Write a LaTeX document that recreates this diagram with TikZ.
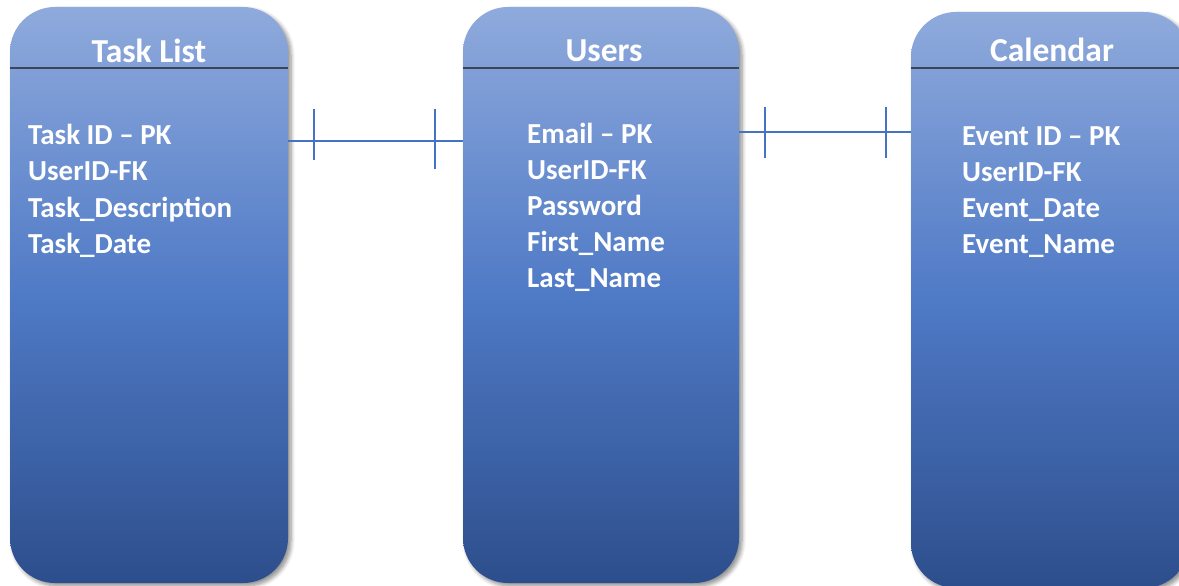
\documentclass[tikz,border=0pt]{standalone}
\usepackage{fontspec}
\setmainfont{Carlito}
\usetikzlibrary{shadows.blur}
\definecolor{boxtop}{HTML}{8FAADC}
\definecolor{boxmid}{HTML}{4F7AC6}
\definecolor{boxbot}{HTML}{2D4E8C}
\definecolor{linkblue}{HTML}{4472C4}
\definecolor{rulegrey}{HTML}{3A4558}
\begin{document}
\begin{tikzpicture}[x=1pt,y=-1pt,
  entity/.style={rectangle, rounded corners=45pt, inner sep=0pt,
    minimum width=#1, minimum height=576pt,
    top color=boxtop, bottom color=boxbot, middle color=boxmid,
    blur shadow={shadow xshift=3pt, shadow yshift=-3pt,
      shadow blur radius=4pt, shadow blur steps=6, shadow opacity=45}},
  entitytitle/.style={text=white, inner sep=0pt, anchor=base,
    font=\fontsize{33.5}{40}\selectfont\bfseries},
  field/.style={text=white, inner sep=0pt, anchor=base west,
    font=\fontsize{29}{35}\selectfont\bfseries},
  titlerule/.style={draw=rulegrey, line width=1.4pt},
  link/.style={draw=linkblue, line width=1.5pt}]
\useasboundingbox (0,0) rectangle (1179,586);

% entity boxes
\node[entity=278pt] (tasks) at (149,295) {};
\node[entity=276pt] (users) at (601,295) {};
\node[entity=278pt] (cal) at (1050,300) {};

% title rules
\coordinate (ruley) at (0,68);
\draw[titlerule] (tasks.west |- ruley) -- (tasks.east |- ruley);
\draw[titlerule] (users.west |- ruley) -- (users.east |- ruley);
\draw[titlerule] (cal.west |- ruley) -- (cal.east |- ruley);

% titles
\node[entitytitle] (tasks-title) at (149,63) {Task List};
\node[entitytitle] (users-title) at (604,62) {Users};
\node[entitytitle] (cal-title) at (1052,62) {Calendar};

% attribute lists
\foreach \t [count=\i] in {Task ID – PK, UserID-FK, Task\_Description, Task\_Date}
  \node[field] (tasks-f\i) at (28,{144+36.5*(\i-1)}) {\t};
\foreach \t [count=\i] in {Email – PK, UserID-FK, Password, First\_Name, Last\_Name}
  \node[field] (users-f\i) at (527,{143+36.2*(\i-1)}) {\t};
\foreach \t [count=\i] in {Event ID – PK, UserID-FK, Event\_Date, Event\_Name}
  \node[field] (cal-f\i) at (962,{145+36*(\i-1)}) {\t};

% one-to-one relationships
\coordinate (l1) at (0,141);
\coordinate (l2) at (0,132);
\draw[link] (tasks.east |- l1) -- (users.west |- l1);
\draw[link] (users.east |- l2) -- (cal.west |- l2);
% cardinality bars
\coordinate (b1a) at (314,109); \coordinate (b1b) at (314,160);
\coordinate (b2a) at (435,109); \coordinate (b2b) at (435,169);
\coordinate (b3a) at (765,107); \coordinate (b3b) at (765,158);
\coordinate (b4a) at (886,107); \coordinate (b4b) at (886,158);
\draw[link] (b1a) -- (b1b);
\draw[link] (b2a) -- (b2b);
\draw[link] (b3a) -- (b3b);
\draw[link] (b4a) -- (b4b);
\end{tikzpicture}
\end{document}
